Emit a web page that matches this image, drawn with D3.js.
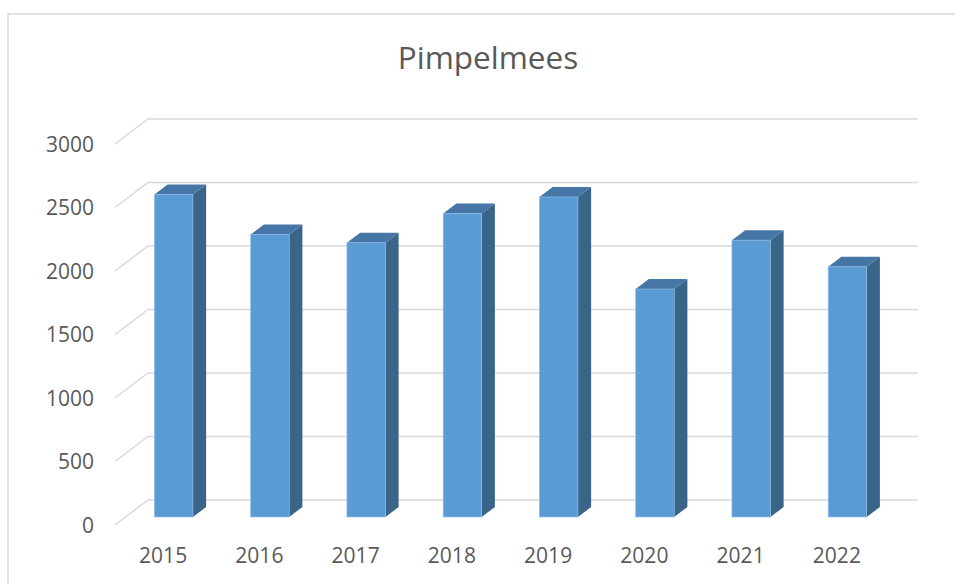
<!DOCTYPE html>
<html>
<head>
<meta charset="utf-8">
<script src="https://cdn.jsdelivr.net/npm/d3@7"></script>
<style>
  html, body { margin: 0; padding: 0; background: #fff; }
  svg { display: block; }
  text { font-family: "Open Sans", "Noto Sans", sans-serif; fill: #595959; }
</style>
</head>
<body>
<svg id="chart" width="955" height="584"></svg>
<script>
// ---------------------------------------------------------------------------
// Data
// ---------------------------------------------------------------------------
const title = "Pimpelmees";
const years = ["2015", "2016", "2017", "2018", "2019", "2020", "2021", "2022"];
const counts = [2540, 2225, 2160, 2390, 2520, 1795, 2180, 1970];
const yTicks = [0, 500, 1000, 1500, 2000, 2500, 3000];

// ---------------------------------------------------------------------------
// Layout (oblique 3D projection, Excel-like)
// ---------------------------------------------------------------------------
const svg = d3.select("#chart");
const W = 955, H = 584;

const depth = { dx: 33, dy: -25 };      // floor depth vector (front -> back)
const barFront = 0.32, barBack = 0.72;  // bar position inside the floor depth

// scales live on the front plane of the floor
const x = d3.scaleBand().domain(years).range([115, 885]).paddingInner(0.6).paddingOuter(0.3);
const xLabel = d3.scaleBand().domain(years).range([115, 885]);
const y = d3.scaleLinear().domain([0, 3000]).range([525, 144]);

// chart area border
svg.append("path")
  .attr("d", `M8,${H + 2} L8,14 L${W + 2},14`)
  .attr("fill", "none")
  .attr("stroke", "#d9d9d9")
  .attr("stroke-width", 1.5);

// title
svg.append("text")
  .attr("x", 488)
  .attr("y", 69)
  .attr("text-anchor", "middle")
  .style("font-size", "31.5px")
  .text(title);

// gridlines: side wall diagonal + back wall horizontal
const grid = svg.append("g").attr("stroke", "#d9d9d9").attr("stroke-width", 1.5).attr("fill", "none");
yTicks.forEach(t => {
  const fx = 115, fy = y(t);
  const bx = fx + depth.dx, by = fy + depth.dy;
  grid.append("path").attr("d", `M${fx},${fy} L${bx},${by} L${885 + depth.dx},${by}`);
});

// y tick labels
svg.append("g").selectAll("text")
  .data(yTicks)
  .join("text")
  .attr("x", 94)
  .attr("y", d => y(d) + 7.5)
  .attr("text-anchor", "end")
  .style("font-size", "21px")
  .text(d => d);

// bars
const fdx = depth.dx * barFront, fdy = depth.dy * barFront;
const ddx = depth.dx * (barBack - barFront), ddy = depth.dy * (barBack - barFront);
const bars = svg.append("g").selectAll("g")
  .data(years.map((yr, i) => ({ yr, v: counts[i] })))
  .join("g");

bars.each(function(d) {
  const g = d3.select(this);
  const x0 = x(d.yr) + fdx, x1 = x0 + x.bandwidth();
  const yb = y(0) + fdy, yt = y(d.v) + fdy;
  // right side face
  g.append("path")
    .attr("d", `M${x1},${yb} L${x1 + ddx},${yb + ddy} L${x1 + ddx},${yt + ddy} L${x1},${yt} Z`)
    .attr("fill", "#3a6488");
  // top face
  g.append("path")
    .attr("d", `M${x0},${yt} L${x0 + ddx},${yt + ddy} L${x1 + ddx},${yt + ddy} L${x1},${yt} Z`)
    .attr("fill", "#4676a5");
  // front face
  g.append("rect")
    .attr("x", x0)
    .attr("y", yt)
    .attr("width", x.bandwidth())
    .attr("height", yb - yt)
    .attr("fill", "#5b9bd5")
    .attr("stroke", "#8fbde6")
    .attr("stroke-width", 0.6);
});

// category labels
svg.append("g").selectAll("text")
  .data(years)
  .join("text")
  .attr("x", d => xLabel(d) + xLabel.bandwidth() / 2)
  .attr("y", 563)
  .attr("text-anchor", "middle")
  .style("font-size", "21px")
  .text(d => d);
</script>
</body>
</html>
